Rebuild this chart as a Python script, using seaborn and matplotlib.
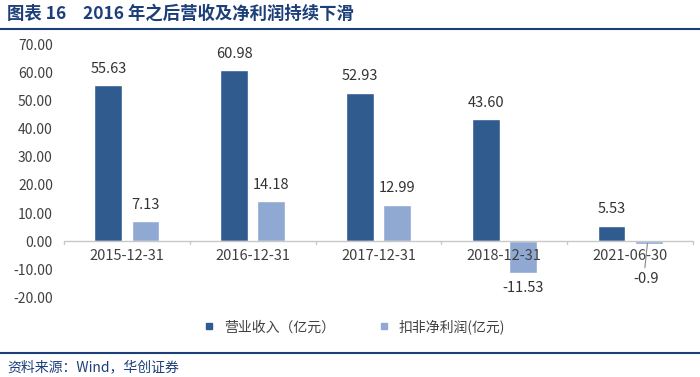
import matplotlib.pyplot as plt
import seaborn as sns
import numpy as np
import pandas as pd
from matplotlib.lines import Line2D

dates = ['2015-12-31', '2016-12-31', '2017-12-31', '2018-12-31', '2021-06-30']
revenue = [55.63, 60.98, 52.93, 43.60, 5.53]
net_profit = [7.13, 14.18, 12.99, -11.53, -0.9]
series_names = ['营业收入（亿元）', '扣非净利润(亿元)']
rev_labels = ['55.63', '60.98', '52.93', '43.60', '5.53']
np_labels = ['7.13', '14.18', '12.99', '-11.53', '-0.9']
y_ticks = [-20, -10, 0, 10, 20, 30, 40, 50, 60, 70]

df = pd.DataFrame({
    'date': dates * 2,
    'value': revenue + net_profit,
    'series': [series_names[0]] * 5 + [series_names[1]] * 5,
})

sns.set_style('white')
plt.rcParams['font.family'] = ['Noto Sans CJK SC', 'DejaVu Sans']
plt.rcParams['axes.unicode_minus'] = False

dark = '#2F5B8F'
light = '#8FA9D3'
navy = '#1C3F7A'
txt = '#404040'

fig = plt.figure(figsize=(7, 3.77), dpi=100)
ax = fig.add_axes([0.0914, 0.212, 0.8986, 0.669])

sns.barplot(data=df, x='date', y='value', hue='series', palette=[dark, light],
            width=0.59, gap=0.25, saturation=1, ax=ax, legend=False)

ax.set_ylim(-20, 70)
ax.set_xlim(-0.5, 4.5)
ax.set_yticks(y_ticks)
ax.set_yticklabels([f'{v:.2f}' for v in y_ticks], fontsize=10, color=txt)
ax.tick_params(axis='y', length=0, pad=8)
ax.tick_params(axis='x', length=0)
ax.set_xlabel('')
ax.set_ylabel('')
for s in ax.spines.values():
    s.set_visible(False)
ax.axhline(0, color='#C8C8C8', lw=1)
for b in np.arange(-0.5, 5, 1):
    ax.plot([b, b], [0, -1.2], color='#C8C8C8', lw=1, clip_on=False)

# category labels sit just below the zero line
ax.set_xticks(range(len(dates)))
ax.set_xticklabels([])
for i, d in enumerate(dates):
    ax.text(i, -5.2, d, ha='center', va='center', fontsize=10.5, color=txt)

bars = ax.patches
for p, lab in zip(bars[:5], rev_labels):
    ax.text(p.get_x() + p.get_width() / 2, p.get_height() + 3.3, lab,
            ha='center', va='bottom', fontsize=10.5, color='#333333')
for i, (p, lab) in enumerate(zip(bars[5:10], np_labels)):
    x = p.get_x() + p.get_width() / 2
    h = p.get_height()
    if h >= 0:
        ax.text(x, h + 3.3, lab, ha='center', va='bottom', fontsize=10.5, color='#333333')
    elif i == 4:
        ax.plot([x - 0.01, x - 0.03], [h, -9.5], color='#888888', lw=0.8)
        ax.text(x - 0.02, -13.4, lab, ha='center', va='center', fontsize=10.5, color='#333333')
    else:
        ax.text(x, h - 5.2, lab, ha='center', va='center', fontsize=10.5, color='#333333')

handles = [Line2D([], [], marker='s', ls='', color=c, markersize=5) for c in [dark, light]]
fig.legend(handles, series_names, loc='center', bbox_to_anchor=(0.5, 0.133), ncol=2,
           frameon=False, fontsize=10, handletextpad=0.1, columnspacing=2.5,
           labelcolor=txt)

fig.text(0.01, 0.963, '图表 16', fontsize=12.5, fontweight='bold', color=navy, va='center')
fig.text(0.118, 0.963, '2016 年之后营收及净利润持续下滑', fontsize=12.5,
         fontweight='bold', color=navy, va='center')
fig.add_artist(Line2D([0.0, 1.0], [0.923, 0.923], color=navy, lw=1.5))
fig.add_artist(Line2D([0.0, 1.0], [0.064, 0.064], color=navy, lw=1.5))
fig.text(0.01, 0.025, '资料来源：Wind，华创证券', fontsize=10, style='italic',
         color=navy, va='center')

fig.savefig('out.png', dpi=100)
